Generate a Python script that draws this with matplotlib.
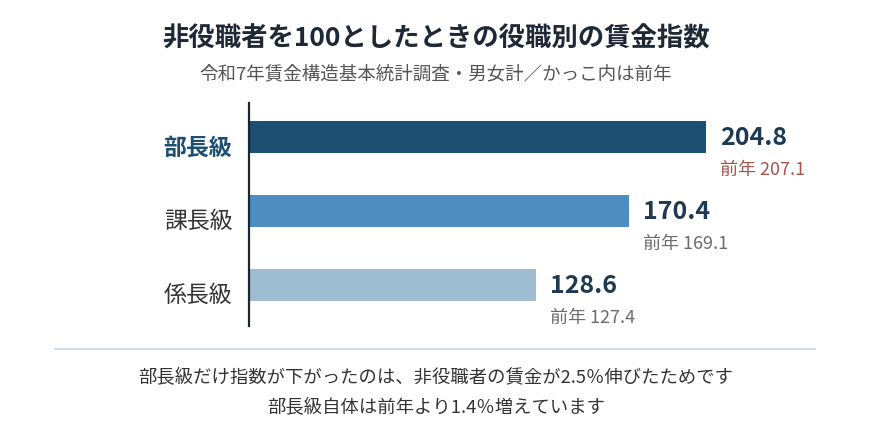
import matplotlib
matplotlib.use("Agg")
import matplotlib.pyplot as plt

plt.rcParams['font.family'] = ['Noto Sans CJK JP', 'DejaVu Sans']

categories = ["部長級", "課長級", "係長級"]
values = [204.8, 170.4, 128.6]
prev_values = [207.1, 169.1, 127.4]
bar_colors = ["#1c4f70", "#4d8dbf", "#9ebdd1"]
prev_colors = ["#a5544b", "#6b6b6b", "#6b6b6b"]

title = "非役職者を100としたときの役職別の賃金指数"
subtitle = "令和7年賃金構造基本統計調査・男女計／かっこ内は前年"
footer1 = "部長級だけ指数が下がったのは、非役職者の賃金が2.5％伸びたためです"
footer2 = "部長級自体は前年より1.4％増えています"

W, H = 870, 435
fig = plt.figure(figsize=(W / 100, H / 100), dpi=100)
fig.patch.set_facecolor("white")

# axes placed in pixel space
ax_left, ax_right = 249, 829
ax_top, ax_bottom = 104, 327
ax = fig.add_axes([ax_left / W, 1 - ax_bottom / H, (ax_right - ax_left) / W, (ax_bottom - ax_top) / H])

pos = list(range(len(categories)))
ax.barh(pos, values, height=0.43, color=bar_colors, zorder=2)
ax.set_xlim(0, (ax_right - ax_left) / 2.23)
ax.set_ylim(2.554, -0.46)

for s in ["top", "right", "bottom"]:
    ax.spines[s].set_visible(False)
ax.spines["left"].set_color("#1b2631")
ax.spines["left"].set_linewidth(1.6)
ax.set_xticks([])
ax.set_yticks([])

for i, (cat, v, pv) in enumerate(zip(categories, values, prev_values)):
    first = (i == 0)
    ax.annotate(cat, xy=(0, i), xycoords=("axes fraction", "data"),
                xytext=(-12, -7), textcoords="offset points",
                ha="right", va="center", fontsize=16.5,
                fontweight="bold" if first else "normal",
                color="#1c4f70" if first else "#333333")
    ax.annotate(f"{v:.1f}", xy=(v, i), xycoords="data",
                xytext=(10, 0), textcoords="offset points",
                ha="left", va="center", fontsize=18, fontweight="bold",
                color="#1e3a52")
    ax.annotate(f"前年 {pv:.1f}", xy=(v, i), xycoords="data",
                xytext=(10, -23), textcoords="offset points",
                ha="left", va="center", fontsize=13,
                color=prev_colors[i])

fig.text(436 / W, 1 - 39 / H, title, ha="center", va="center",
         fontsize=19, fontweight="bold", color="#1e2935")
fig.text(436 / W, 1 - 74 / H, subtitle, ha="center", va="center",
         fontsize=13.3, color="#555555")

fig.add_artist(plt.Line2D([55 / W, 815 / W], [1 - 350 / H, 1 - 350 / H],
                          color="#d3dfe2", linewidth=1.5))

fig.text(436 / W, 1 - 378 / H, footer1, ha="center", va="center",
         fontsize=13.2, color="#333333")
fig.text(436 / W, 1 - 408 / H, footer2, ha="center", va="center",
         fontsize=13.2, color="#333333")

fig.savefig("out.png", dpi=100, facecolor="white")
